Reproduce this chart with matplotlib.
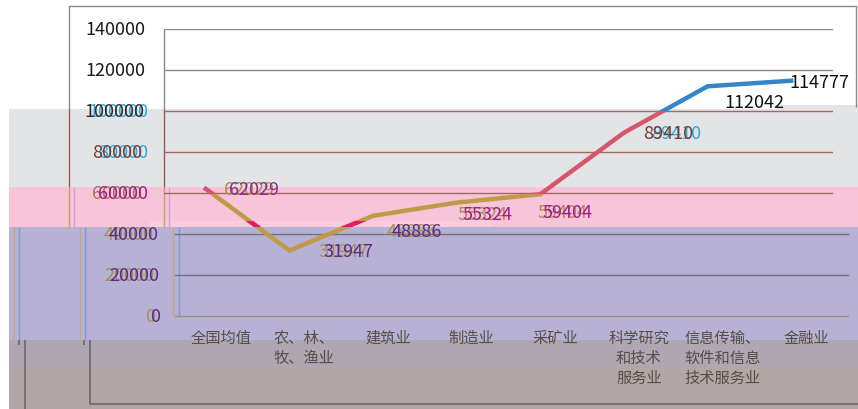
import matplotlib.pyplot as plt
from matplotlib.patches import Rectangle
from matplotlib.transforms import ScaledTranslation

plt.rcParams["font.family"] = ["Noto Sans CJK SC", "DejaVu Sans"]

CATEGORIES = [
    "全国均值",
    "农、林、\n牧、渔业",
    "建筑业",
    "制造业",
    "采矿业",
    "科学研究\n和技术\n服务业",
    "信息传输、\n软件和信息\n技术服务业",
    "金融业",
]
SALARY = [62029, 31947, 48886, 55324, 59404, 89410, 112042, 114777]
Y_TICKS = [0, 20000, 40000, 60000, 80000, 100000, 120000, 140000]

# colour bands of the line (value ranges)
BLUE_FROM = 100000
RED_FROM = SALARY[4]

TAN = "#C19A48"
RED = "#D6566C"
BLUE = "#3386C8"
MAGENTA = "#A21C8C"
PURPLE = "#5B2C83"
BROWN = "#7B3A2E"
CYAN = "#27A9E1"
GHOST_TAN = "#A89050"

W, H = 858, 410
fig = plt.figure(figsize=(W / 100, H / 100), dpi=100)

# background layer in pixel coordinates
bg = fig.add_axes([0, 0, 1, 1], zorder=0)
bg.set_xlim(0, W)
bg.set_ylim(H, 0)
bg.axis("off")

for y0, y1, c in [(110, 188, "#E3E4E6"), (188, 228, "#F7C4D9"),
                  (228, 341, "#B7B1D6"), (341, 368, "#AEA6B1"),
                  (368, H, "#B3A6A7")]:
    bg.add_patch(Rectangle((9, y0), W - 9, y1 - y0, color=c, lw=0))
bg.add_patch(Rectangle((777, 106), W - 777, 4, color="#E3E4E6", lw=0))
bg.add_patch(Rectangle((150, 222), 340, 6, color="#F8CCDD", lw=0))


def vline(x, y0, y1, c, lw=1.0):
    bg.plot([x, x], [y0, y1], color=c, lw=lw, solid_capstyle="butt")


# outer frame and ghost frames
bg.plot([69, 856], [7, 7], color="#8A8A8A", lw=1.0)
vline(856, 7, 108, "#8A8A8A")
for x in (69, 164):
    vline(x, 7 if x == 69 else 30, 110, "#8A8A8A")
    vline(x, 110, 188, "#9A5A50")
    vline(x, 188, 228, "#C8A060")
    vline(x + 5, 188, 228, "#C9A6DA")
for x in (14, 80):
    vline(x, 228, 341, "#C8A870")
    vline(x + 5, 228, 341, "#7E9BD8")
vline(173, 228, 317, "#C8A870")
vline(179, 228, 317, "#7E9BD8")
vline(19, 341, 346, "#6A6A6A", 1.2)
vline(25, 341, H, "#6A6A6A", 1.2)
vline(84, 341, 346, "#6A6A6A", 1.2)
vline(90, 341, 405, "#6A6A6A", 1.2)
bg.plot([90, W], [405, 405], color="#6A6A6A", lw=1.2)

# main chart
ax = fig.add_axes([164 / W, (H - 317) / H, 669 / W, 287 / H], zorder=1)
ax.patch.set_alpha(0)
for s in ax.spines.values():
    s.set_visible(False)
ax.set_xlim(-0.5, 7.5)
ax.set_ylim(0, 140000)

x_pos = list(range(len(SALARY)))

for t in Y_TICKS:
    if t >= 120000:
        ax.axhline(t, color="#8C8C8C", lw=1.0, zorder=1)
    elif t >= 60000:
        ax.axhline(t, color="#A06A60", lw=1.0, zorder=1)
    else:
        ax.axhline(t, xmin=(175 - 164) / 669, xmax=(848 - 164) / 669,
                   color="#6F7078" if t else "#9A9080", lw=1.0, zorder=1, clip_on=False)

for lo, hi, c in [(0, RED_FROM, TAN), (RED_FROM, BLUE_FROM, RED), (BLUE_FROM, 200000, BLUE)]:
    (ln,) = ax.plot(x_pos, SALARY, color=c, lw=3.2, zorder=3, solid_joinstyle="miter")
    ln.set_clip_path(Rectangle((-1, lo), 10, hi - lo, transform=ax.transData))
(ln,) = ax.plot(x_pos, SALARY, color="#E8186A", lw=3.2, zorder=3)
ln.set_clip_path(Rectangle((150, 222), 340, 6, transform=bg.transData))

NUM_SIZE = 13


def label(xy, s, dx, dy, color, ghost=None, gdx=0, ha="left", coords="data"):
    kw = dict(textcoords="offset pixels", xycoords=coords, ha=ha, va="center",
              fontsize=NUM_SIZE, annotation_clip=False)
    if ghost:
        ax.annotate(s, xy, xytext=(dx + gdx, dy), color=ghost, zorder=4, **kw)
    ax.annotate(s, xy, xytext=(dx, dy), color=color, zorder=5, **kw)


# y tick labels (right edge pixel, colour, ghost colour, ghost shift)
ytick_style = {
    0: (160, PURPLE, GHOST_TAN, -5),
    20000: (159, PURPLE, GHOST_TAN, -5),
    40000: (159, PURPLE, GHOST_TAN, -5),
    60000: (148, MAGENTA, "#A07A50", -6),
    80000: (142, BROWN, CYAN, 6),
    100000: (144, "#3A2520", CYAN, 4),
    120000: (145, "#1A1A1A", None, 0),
    140000: (145, "#1A1A1A", None, 0),
}
for t in Y_TICKS:
    right, c, g, gdx = ytick_style[t]
    label((0, t), str(t), right - 164, 0, c, g, gdx, ha="right",
          coords=("axes fraction", "data"))

# data labels: offset in pixels from the point
value_style = [
    (23, 0, "#8E2B8E", GHOST_TAN, -5),
    (34, 0, PURPLE, GHOST_TAN, -5),
    (19, -15, PURPLE, GHOST_TAN, -5),
    (6, -11, MAGENTA, GHOST_TAN, -5),
    (2, -18, MAGENTA, GHOST_TAN, -5),
    (19, 0, BROWN, CYAN, 8),
    (17, -16, "#111111", None, 0),
    (-2, -1, "#111111", None, 0),
]
for x, v, (dx, dy, c, g, gdx) in zip(x_pos, SALARY, value_style):
    label((x, v), str(v), dx, dy, c, g, gdx)

ax.set_yticks([])
ax.set_xticks(x_pos)
ax.set_xticklabels(CATEGORIES, fontsize=11, color="#564F42", linespacing=1.25)
ax.tick_params(axis="x", length=0, pad=9)
for lab in ax.get_xticklabels():
    lab.set_transform(lab.get_transform() + ScaledTranslation(15 / 100, 0, fig.dpi_scale_trans))

fig.savefig("out.png", dpi=100)
